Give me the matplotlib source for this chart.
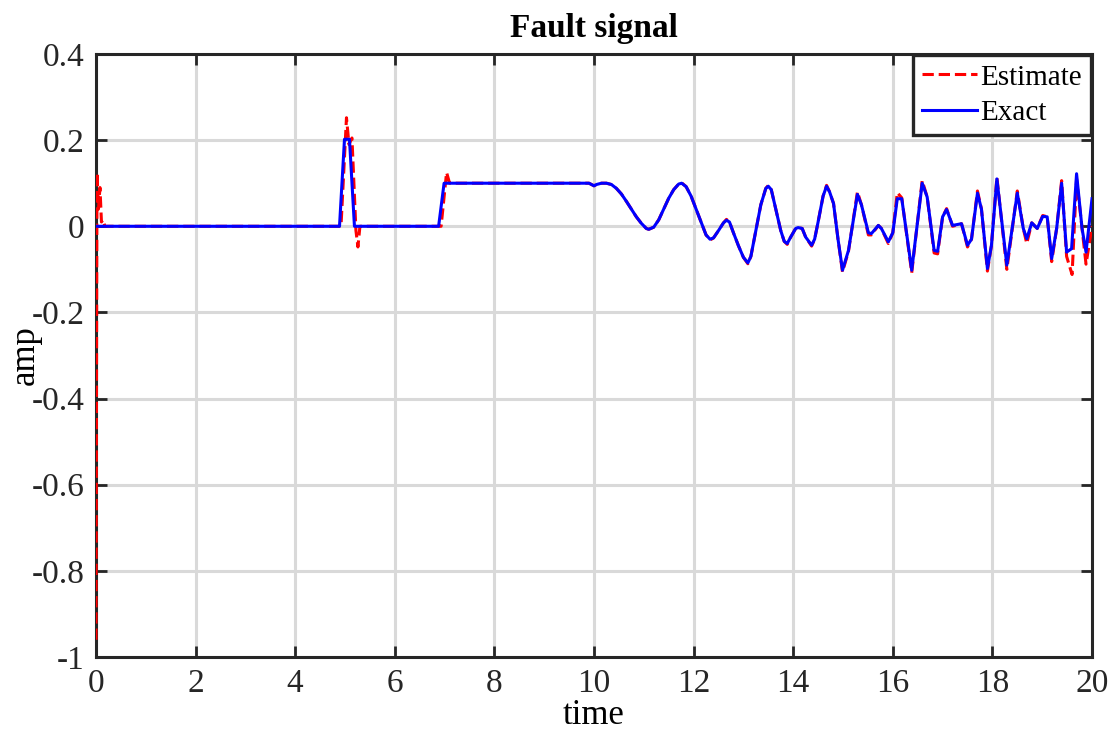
import numpy as np
import matplotlib.pyplot as plt
from matplotlib.ticker import FuncFormatter

plt.rcParams['font.family'] = ['Liberation Serif', 'DejaVu Serif']

# Exact fault signal (time, amplitude)
t_exact = [0.0, 4.89, 4.99, 5.09, 5.19, 6.88, 6.99, 9.9, 10.0, 10.05, 10.15, 10.25,
           10.35, 10.45, 10.55, 10.65, 10.75, 10.85, 10.95, 11.05, 11.1, 11.2, 11.3,
           11.4, 11.5, 11.6, 11.7, 11.76, 11.85, 11.95, 12.05, 12.15, 12.25, 12.33,
           12.4, 12.5, 12.6, 12.66, 12.72, 12.8, 12.9, 13.0, 13.09, 13.15, 13.25,
           13.35, 13.45, 13.5, 13.56, 13.65, 13.75, 13.82, 13.88, 13.95, 14.05, 14.1,
           14.18, 14.25, 14.37, 14.43, 14.5, 14.6, 14.67, 14.73, 14.81, 14.9, 14.99,
           15.11, 15.29, 15.37, 15.51, 15.57, 15.71, 15.77, 15.91, 16.0, 16.09, 16.18,
           16.38, 16.59, 16.69, 16.83, 16.9, 17.0, 17.08, 17.2, 17.38, 17.5, 17.58,
           17.7, 17.78, 17.9, 17.98, 18.09, 18.29, 18.5, 18.62, 18.69, 18.79, 18.9,
           19.01, 19.1, 19.19, 19.29, 19.39, 19.49, 19.59, 19.69, 19.8, 19.88, 20.0]
amp_exact = [0.0, 0.0, 0.202, 0.202, 0.0, 0.0, 0.1, 0.1, 0.094, 0.097, 0.1, 0.1,
             0.097, 0.088, 0.075, 0.058, 0.04, 0.022, 0.007, -0.005, -0.007, -0.002, 0.015,
             0.04, 0.065, 0.085, 0.098, 0.1, 0.092, 0.07, 0.04, 0.01, -0.02, -0.03,
             -0.027, -0.01, 0.008, 0.014, 0.01, -0.015, -0.045, -0.072, -0.085, -0.07, -0.01,
             0.05, 0.088, 0.093, 0.085, 0.04, -0.01, -0.035, -0.04, -0.025, -0.005, -0.003,
             -0.005, -0.025, -0.044, -0.03, 0.01, 0.07, 0.093, 0.08, 0.053, -0.03, -0.102,
             -0.056, 0.074, 0.05, -0.015, -0.017, 0.002, -0.005, -0.036, -0.015, 0.064, 0.064,
             -0.102, 0.1, 0.068, -0.056, -0.058, 0.022, 0.039, 0.002, 0.006, -0.044, -0.03,
             0.077, 0.04, -0.098, -0.045, 0.11, -0.09, 0.077, -0.005, -0.029, 0.008, -0.005,
             0.023, 0.022, -0.075, -0.005, 0.1, -0.06, -0.052, 0.122, -0.005, -0.06, 0.064]

# Estimated fault signal (time, amplitude)
t_est = [0.0, 0.02, 0.05, 0.08, 0.11, 0.14, 0.18, 4.92, 5.03, 5.08, 5.14, 5.22, 5.26,
         5.3, 6.93, 7.04, 7.1, 9.9, 10.0, 10.05, 10.15, 10.25,
         10.35, 10.45, 10.55, 10.65, 10.75, 10.85, 10.95, 11.05, 11.1, 11.2, 11.3,
         11.4, 11.5, 11.6, 11.7, 11.76, 11.85, 11.95, 12.05, 12.15, 12.25, 12.33,
         12.4, 12.5, 12.6, 12.66, 12.72, 12.8, 12.9, 13.0, 13.09, 13.15, 13.25,
         13.35, 13.45, 13.5, 13.56, 13.65, 13.75, 13.82, 13.88, 13.95, 14.05, 14.1,
         14.18, 14.25, 14.37, 14.43, 14.5, 14.6, 14.67, 14.73, 14.81, 14.9, 14.99,
         15.11, 15.29, 15.37, 15.51, 15.57, 15.71, 15.77, 15.91, 16.0, 16.09, 16.18,
         16.38, 16.59, 16.69, 16.83, 16.9, 17.0, 17.08, 17.2, 17.38, 17.5, 17.58,
         17.7, 17.78, 17.9, 17.98, 18.09, 18.29, 18.5, 18.62, 18.69, 18.79, 18.9,
         19.01, 19.1, 19.19, 19.29, 19.39, 19.49, 19.6, 19.69, 19.8, 19.88, 20.0]
amp_est = [-0.96, 0.125, 0.04, 0.09, 0.01, 0.015, 0.0, 0.0, 0.252, 0.19, 0.205, -0.01, -0.048,
           0.0, 0.0, 0.125, 0.1, 0.1, 0.094, 0.097, 0.1, 0.1,
           0.097, 0.088, 0.075, 0.058, 0.04, 0.022, 0.007, -0.005, -0.007, -0.002, 0.015,
           0.04, 0.065, 0.085, 0.098, 0.101, 0.092, 0.07, 0.04, 0.01, -0.02, -0.032,
           -0.027, -0.01, 0.008, 0.016, 0.01, -0.015, -0.045, -0.072, -0.087, -0.07, -0.01,
           0.05, 0.088, 0.095, 0.085, 0.04, -0.01, -0.035, -0.042, -0.025, -0.005, -0.003,
           -0.005, -0.025, -0.046, -0.03, 0.01, 0.07, 0.095, 0.08, 0.053, -0.03, -0.106,
           -0.058, 0.08, 0.05, -0.02, -0.02, 0.002, -0.005, -0.04, -0.015, 0.078, 0.066,
           -0.108, 0.106, 0.068, -0.062, -0.064, 0.022, 0.041, 0.0, 0.006, -0.048, -0.03,
           0.082, 0.04, -0.104, -0.045, 0.114, -0.1, 0.082, -0.005, -0.04, 0.008, -0.005,
           0.025, 0.022, -0.082, -0.005, 0.106, -0.07, -0.112, 0.11, -0.005, -0.088, 0.0]


def tick_fmt(v, pos):
    v = round(v, 2)
    return '%g' % (0.0 if v == 0 else v)


fig = plt.figure(figsize=(11.16, 7.54), dpi=100)
ax = fig.add_axes([0.086, 0.1286, 0.8925, 0.7998])

ax.plot(t_est, amp_est, 'r--', lw=2.2, label='Estimate', zorder=3)
ax.plot(t_exact, amp_exact, color='#0000ff', lw=2.2, label='Exact', zorder=4)

ax.set_xlim(0, 20)
ax.set_ylim(-1, 0.4)
ax.set_xticks(np.arange(0, 21, 2))
ax.set_yticks(np.arange(-1, 0.41, 0.2))
ax.yaxis.set_major_formatter(FuncFormatter(tick_fmt))

ax.grid(True, color='#d9d9d9', lw=2.2)
ax.set_axisbelow(True)
for s in ax.spines.values():
    s.set_linewidth(2.2)
    s.set_color('#262626')
ax.tick_params(direction='in', length=8, width=2, colors='#262626',
               labelsize=24, top=True, right=True, pad=8)
for lab in ax.get_xticklabels() + ax.get_yticklabels():
    lab.set_color('#262626')

ax.set_title('Fault signal', fontsize=24, fontweight='bold', pad=12)
ax.set_xlabel('time', fontsize=25, labelpad=0)
ax.set_ylabel('amp', fontsize=25, va='center')
ax.yaxis.set_label_coords(-0.071, 0.5)

leg = ax.legend(loc='upper right', fontsize=21, handlelength=1.9, handletextpad=0.1,
                borderpad=0.3, labelspacing=0.3, borderaxespad=0.05, fancybox=False,
                framealpha=1)
leg.get_frame().set_edgecolor('#262626')
leg.get_frame().set_linewidth(2.4)

fig.savefig('out.png', dpi=100)
